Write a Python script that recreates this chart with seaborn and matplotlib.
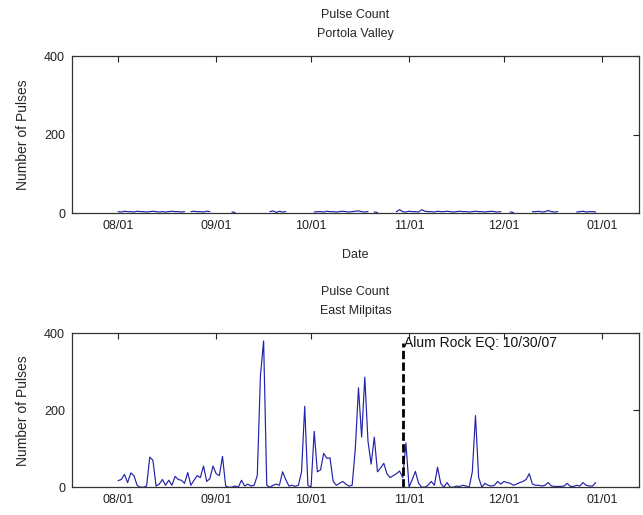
import numpy as np
import pandas as pd
import matplotlib
matplotlib.use("Agg")
import matplotlib.pyplot as plt
import matplotlib.dates as mdates
import seaborn as sns

nan = np.nan

# Daily pulse counts starting 2007-08-01
start_date = "2007-08-01"

portola_counts = [
    4, 3, 5, 4, 4, 3, 5, 4, 4, 3, 4, 5, 4, 3, 4, 3, 4, 5, 4, 4, 3, 4,
    nan, 4, 5, 4, 4, 3, 5, 4,
    nan, nan, nan, nan, nan, nan,
    3, 2,
    nan, nan, nan, nan, nan, nan, nan, nan, nan, nan,
    4, 6, 2, 5, 3, 4,
    nan, nan, nan, nan, nan, nan, nan, nan,
    3, 4, 4, 3, 5, 4, 4, 3, 4, 5, 4, 3, 4, 5, 6, 4, 3, 4,
    nan,
    3, 2,
    nan, nan, nan, nan, nan,
    4, 9, 4, 3, 5, 4, 4, 3, 9, 5, 4, 4, 3, 5, 4, 4, 5, 4, 3, 4, 5, 4, 4, 3,
    4, 5, 4, 4, 3, 4, 5, 4, 3, 4,
    nan, nan,
    3, 2,
    nan, nan, nan, nan, nan,
    4, 4, 5, 3, 4, 7, 4, 3, 4,
    nan, nan, nan, nan, nan,
    3, 4, 5, 3, 4, 4, 3,
]

milpitas_counts = [
    17, 20, 33, 12, 37, 30, 5, 0, 0, 3,
    78, 70, 3, 8, 20, 5, 18, 5, 28, 20,
    18, 10, 38, 5, 18, 30, 25, 55, 15, 22,
    55, 35, 30, 80, 3, 0, 0, 3, 0, 18,
    3, 8, 3, 5, 30, 290, 380, 5, 0, 5,
    8, 5, 40, 20, 3, 5, 2, 5, 40, 210,
    5, 0, 145, 40, 45, 88, 75, 76, 15, 5,
    10, 15, 8, 3, 5, 100, 258, 130, 286, 120,
    60, 130, 40, 50, 62, 35, 25, 30, 35, 42,
    25, 115, 0, 20, 41, 10, 0, 0, 5, 15,
    5, 52, 10, 0, 12, 0, 0, 3, 2, 5,
    3, 0, 40, 186, 25, 0, 10, 5, 3, 5,
    15, 8, 15, 12, 10, 5, 8, 12, 15, 20,
    35, 8, 5, 5, 3, 5, 12, 3, 2, 2,
    2, 3, 10, 2, 2, 5, 3, 12, 5, 3,
    3, 12,
]

station_titles = ["Pulse Count\nPortola Valley", "Pulse Count\nEast Milpitas"]
month_ticks = ["2007-08-01", "2007-09-01", "2007-10-01", "2007-11-01",
               "2007-12-01", "2008-01-01"]
y_ticks = [0, 200, 400]
quake_date = "2007-10-30"
quake_label = "Alum Rock EQ: 10/30/07"
quake_level = 375


def station_frame(counts):
    dates = pd.date_range(start_date, periods=len(counts), freq="D")
    df = pd.DataFrame({"date": dates, "pulses": counts})
    # separate runs of valid samples so gaps stay open
    df["segment"] = df["pulses"].isna().cumsum()
    return df.dropna()


sns.set_style("white")
plt.rcParams["font.family"] = ["Liberation Sans", "DejaVu Sans"]
plt.rcParams["font.size"] = 9

fig = plt.figure(figsize=(6.43, 5.15), dpi=100)
ax_top = fig.add_axes([0.112, 0.586, 0.882, 0.305])
ax_bot = fig.add_axes([0.112, 0.054, 0.882, 0.299])

line_color = "#2222aa"
for ax, counts, title in zip([ax_top, ax_bot],
                             [portola_counts, milpitas_counts],
                             station_titles):
    df = station_frame(counts)
    sns.lineplot(data=df, x="date", y="pulses", units="segment",
                 estimator=None, color=line_color, linewidth=0.85, ax=ax)
    ax.set_xlim(pd.Timestamp("2007-07-17 10:00"), pd.Timestamp("2008-01-12 18:00"))
    ax.set_ylim(0, 400)
    ax.set_yticks(y_ticks)
    ax.set_xticks(pd.to_datetime(month_ticks))
    ax.xaxis.set_major_formatter(mdates.DateFormatter("%m/%d"))
    ax.tick_params(direction="in", length=4, width=0.8, top=True, right=True,
                   labelsize=9, colors="#222222", pad=5)
    for spine in ax.spines.values():
        spine.set_visible(True)
        spine.set_color("#333333")
        spine.set_linewidth(0.9)
    ax.set_ylabel("Number of Pulses", fontsize=10, labelpad=10)
    ax.set_xlabel("")
    ax.set_title(title, fontsize=9, pad=14, linespacing=1.75)

ax_top.set_xlabel("Date", fontsize=9, labelpad=12)

qd = pd.Timestamp(quake_date)
ax_bot.plot([qd, qd], [0, quake_level], color="black", linewidth=2.0,
            linestyle=(0, (3.0, 1.2)))
ax_bot.text(qd + pd.Timedelta(hours=6), quake_level, quake_label,
            fontsize=10, va="center", ha="left", color="#111111")

fig.savefig("out.png", dpi=100)
